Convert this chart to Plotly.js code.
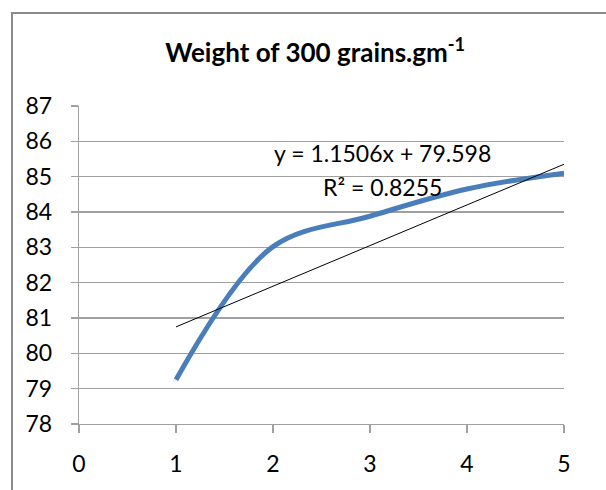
<!DOCTYPE html>
<html>
<head>
<meta charset="utf-8">
<script src="https://cdn.plot.ly/plotly-3.0.1.min.js"></script>
<style>
html,body{margin:0;padding:0;background:#fff;}
#wrap{position:relative;width:606px;height:490px;}
#chart{position:absolute;left:0;top:0;width:606px;height:490px;}
#frame{position:absolute;left:11px;top:12px;width:620px;height:500px;border-left:2px solid #8c8c8c;border-top:2px solid #8c8c8c;pointer-events:none;}
</style>
</head>
<body>
<div id="wrap"><div id="chart"></div><div id="frame"></div></div>
<script>
// Data
const xValues = [1, 2, 3, 4, 5];
const weights = [79.25, 83.02, 83.88, 84.65, 85.1];
const trendSlope = 1.1506;
const trendIntercept = 79.598;
const rSquared = 0.8255;
const xTicks = [0, 1, 2, 3, 4, 5];
const yTicks = [78, 79, 80, 81, 82, 83, 84, 85, 86, 87];

const trendX = [xValues[0], xValues[xValues.length - 1]];
const trendY = trendX.map(x => trendSlope * x + trendIntercept);

const font = "Lato, 'Open Sans', sans-serif";

const traces = [
  {
    x: xValues, y: weights, type: 'scatter', mode: 'lines',
    line: {color: '#4a7ebb', width: 5, shape: 'spline', smoothing: 1},
    hoverinfo: 'skip'
  },
  {
    x: trendX, y: trendY, type: 'scatter', mode: 'lines',
    line: {color: '#000000', width: 1},
    hoverinfo: 'skip'
  }
];

const layout = {
  width: 606, height: 490,
  margin: {l: 79, r: 42, t: 106, b: 66},
  paper_bgcolor: '#ffffff', plot_bgcolor: '#ffffff',
  showlegend: false,
  font: {family: font, color: '#000', size: 23},
  title: {
    text: '<b>Weight of 300 grains.gm<sup>-1</sup></b>',
    font: {family: font, size: 26, color: '#000'},
    x: 0.487, xanchor: 'center', y: 0.893, yanchor: 'middle', xref: 'paper'
  },
  xaxis: {
    range: [0, 5], tickvals: xTicks, ticktext: xTicks.map(String),
    showgrid: false, zeroline: false,
    showline: true, linecolor: '#a0a0a0', linewidth: 1.3,
    ticks: 'outside', ticklen: 8, tickcolor: '#a0a0a0', tickwidth: 1.3,
    ticklabelstandoff: 11,
    tickfont: {family: font, size: 23, color: '#000'}
  },
  yaxis: {
    range: [78, 87], tickvals: yTicks, ticktext: yTicks.map(String),
    showgrid: true, gridcolor: '#a0a0a0', gridwidth: 1.3, zeroline: false,
    showline: true, linecolor: '#a0a0a0', linewidth: 1.3,
    ticks: 'outside', ticklen: 7, tickcolor: '#a0a0a0', tickwidth: 1.3,
    ticklabelstandoff: 14,
    tickfont: {family: font, size: 23, color: '#000'}
  },
  annotations: [
    {
      x: 3.13, y: 85.67, xref: 'x', yref: 'y',
      text: 'y = ' + trendSlope + 'x + ' + trendIntercept,
      showarrow: false, xanchor: 'center', yanchor: 'middle',
      font: {family: font, size: 23, color: '#000'}
    },
    {
      x: 3.13, y: 84.71, xref: 'x', yref: 'y',
      text: 'R² = ' + rSquared,
      showarrow: false, xanchor: 'center', yanchor: 'middle',
      font: {family: font, size: 23, color: '#000'}
    }
  ]
};

Plotly.newPlot('chart', traces, layout, {staticPlot: true, displayModeBar: false});
</script>
</body>
</html>
